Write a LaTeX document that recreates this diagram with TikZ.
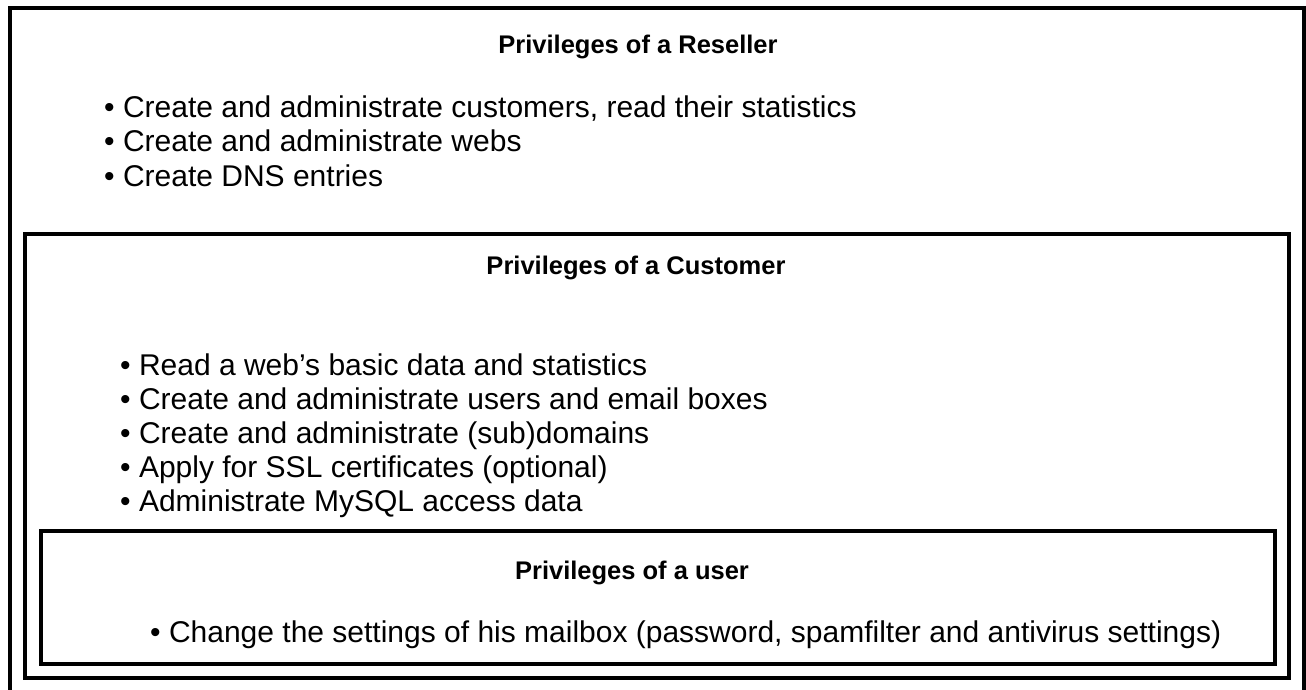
\documentclass[tikz,border=0pt]{standalone}
\usepackage{fontspec}
\setmainfont{Liberation Sans}
\begin{document}
\begin{tikzpicture}[x=1pt,y=-1pt,
  frame/.style={draw=black,line width=4pt},
  ttl/.style={anchor=base,inner sep=0pt,font=\fontsize{25.5}{30}\selectfont\bfseries},
  itm/.style={anchor=base west,inner sep=0pt,font=\fontsize{30}{34}\selectfont}]
\useasboundingbox (0,0) rectangle (1306,690);
\begin{scope}
\clip (0,0) rectangle (1306,690);
\draw[frame] (10,8) rectangle (1304,720);
\end{scope}
\draw[frame] (25,234) rectangle (1289,678);
\draw[frame] (41,531) rectangle (1275,664);
\node[ttl] (rt) at (638,54) {Privileges of a Reseller};
\node[itm] (r1) at (104,118) {• Create and administrate customers, read their statistics};
\node[itm] (r2) at (104,152) {• Create and administrate webs};
\node[itm] (r3) at (104,186) {• Create DNS entries};
\node[ttl] (ct) at (636,274) {Privileges of a Customer};
\node[itm] (c1) at (120,375) {• Read a web's basic data and statistics};
\node[itm] (c2) at (120,409) {• Create and administrate users and email boxes};
\node[itm] (c3) at (120,443) {• Create and administrate (sub)domains};
\node[itm] (c4) at (120,477) {• Apply for SSL certificates (optional)};
\node[itm] (c5) at (120,511) {• Administrate MySQL access data};
\node[ttl] (ut) at (632,579) {Privileges of a user};
\node[itm] (u1) at (150,642) {• Change the settings of his mailbox (password, spamfilter and antivirus settings)};
\end{tikzpicture}
\end{document}
